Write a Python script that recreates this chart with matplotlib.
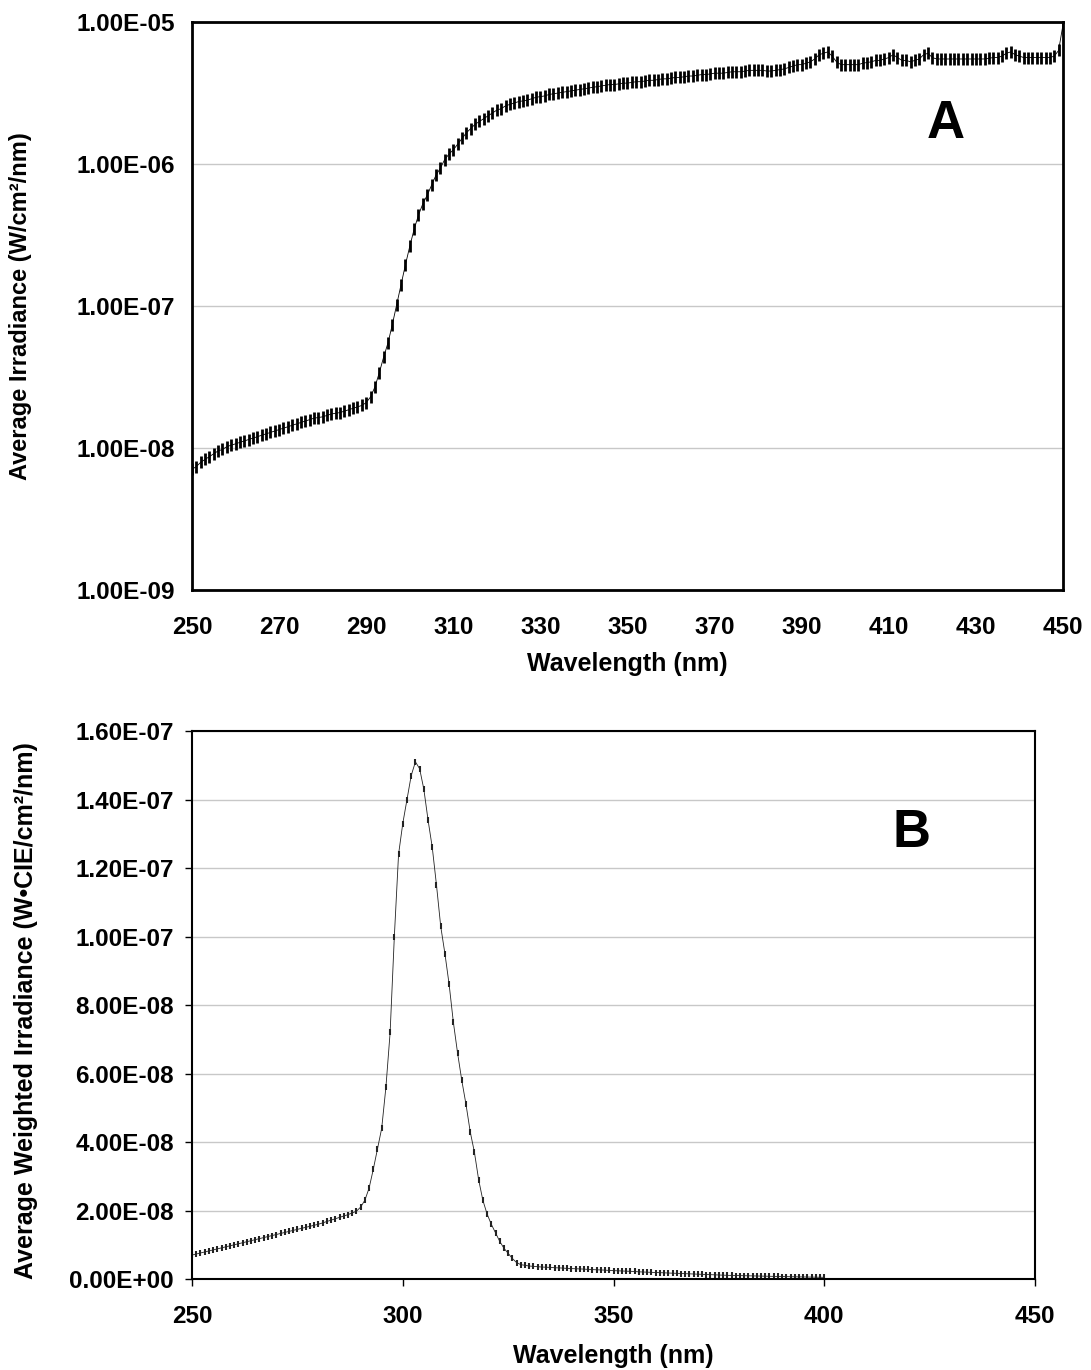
import matplotlib as mpl
mpl.use('Agg')
import matplotlib.pyplot as plt
from matplotlib.ticker import FixedLocator, FuncFormatter
import numpy as np

plt.rcParams['font.family'] = ['Liberation Sans', 'DejaVu Sans']
plt.rcParams['font.weight'] = 'bold'

# Panel A: average irradiance, log10(W/cm2/nm), 1 nm steps from 250 to 450 nm
wlA = list(range(250, 451))
logIrrA = [
    -8.15, -8.13, -8.10, -8.08, -8.06, -8.04, -8.02, -8.01, -7.99, -7.98,
    -7.97, -7.96, -7.95, -7.94, -7.93, -7.92, -7.91, -7.90, -7.89, -7.88,
    -7.87, -7.86, -7.85, -7.84, -7.83, -7.82, -7.81, -7.80, -7.79, -7.785,
    -7.78, -7.77, -7.76, -7.755, -7.75, -7.74, -7.73, -7.72, -7.71, -7.70,
    -7.68, -7.64, -7.57, -7.47, -7.36, -7.26, -7.13, -6.99, -6.85, -6.71,
    -6.58, -6.46, -6.36, -6.28, -6.22, -6.15, -6.08, -6.03, -5.97, -5.93,
    -5.90, -5.86, -5.82, -5.78, -5.75, -5.72, -5.70, -5.68, -5.66, -5.64,
    -5.62, -5.61, -5.59, -5.58, -5.57, -5.56, -5.555, -5.55, -5.54, -5.53,
    -5.525, -5.52, -5.51, -5.505, -5.50, -5.495, -5.49, -5.485, -5.48, -5.475,
    -5.47, -5.465, -5.46, -5.455, -5.45, -5.445, -5.44, -5.44, -5.435, -5.43,
    -5.43, -5.425, -5.42, -5.42, -5.415, -5.41, -5.41, -5.405, -5.40, -5.40,
    -5.395, -5.39, -5.39, -5.385, -5.38, -5.38, -5.375, -5.37, -5.37, -5.365,
    -5.36, -5.36, -5.36, -5.355, -5.35, -5.35, -5.35, -5.345, -5.34, -5.34,
    -5.34, -5.34, -5.345, -5.345, -5.34, -5.335, -5.33, -5.32, -5.31, -5.30,
    -5.30, -5.29, -5.28, -5.26, -5.23, -5.22, -5.21, -5.24, -5.28, -5.30,
    -5.30, -5.30, -5.30, -5.30, -5.29, -5.285, -5.28, -5.27, -5.27, -5.26,
    -5.25, -5.23, -5.25, -5.27, -5.27, -5.28, -5.27, -5.26, -5.23, -5.22,
    -5.25, -5.26, -5.26, -5.26, -5.26, -5.26, -5.26, -5.26, -5.26, -5.26,
    -5.26, -5.26, -5.26, -5.255, -5.25, -5.25, -5.24, -5.22, -5.21, -5.23,
    -5.24, -5.25, -5.25, -5.25, -5.25, -5.25, -5.25, -5.25, -5.24, -5.20,
    -5.02,
]

# Panel B: CIE weighted irradiance (units of 1e-9 W-CIE/cm2/nm), 250 to 400 nm
wlB = list(range(250, 401))
weightedB = [
    7.0, 7.3, 7.6, 7.9, 8.2, 8.5, 8.8, 9.1, 9.4, 9.7,
    10.0, 10.3, 10.6, 10.9, 11.2, 11.5, 11.8, 12.1, 12.4, 12.7,
    13.0, 13.3, 13.6, 13.9, 14.2, 14.5, 14.8, 15.1, 15.4, 15.7,
    16.0, 16.4, 16.8, 17.2, 17.6, 18.0, 18.4, 18.8, 19.3, 19.8,
    21.0, 23.0, 26.5, 32.0, 38.0, 44.0, 56.0, 72.0, 100.0, 124.0,
    133.0, 140.0, 147.0, 151.0, 149.0, 143.0, 134.0, 126.0, 115.0, 103.0,
    95.0, 86.0, 75.0, 66.0, 58.0, 51.0, 43.0, 37.0, 29.0, 23.0,
    19.0, 16.0, 13.5, 11.0, 9.0, 7.5, 6.0, 4.8, 4.2, 4.0,
    3.8, 3.7, 3.6, 3.5, 3.45, 3.4, 3.3, 3.25, 3.2, 3.1,
    3.05, 3.0, 2.95, 2.9, 2.8, 2.75, 2.7, 2.65, 2.6, 2.5,
    2.45, 2.4, 2.35, 2.3, 2.25, 2.2, 2.1, 2.05, 2.0, 1.95,
    1.9, 1.85, 1.8, 1.75, 1.7, 1.65, 1.6, 1.55, 1.5, 1.45,
    1.4, 1.35, 1.3, 1.25, 1.2, 1.15, 1.1, 1.08, 1.05, 1.0,
    0.98, 0.95, 0.92, 0.9, 0.88, 0.85, 0.82, 0.8, 0.78, 0.75,
    0.72, 0.7, 0.68, 0.66, 0.64, 0.62, 0.6, 0.58, 0.56, 0.55,
    0.5,
]

ticksA_x = [250, 270, 290, 310, 330, 350, 370, 390, 410, 430, 450]
ticksA_y = [1e-9, 1e-8, 1e-7, 1e-6, 1e-5]
ticksB_x = [250, 300, 350, 400, 450]
ticksB_y = [0, 2e-8, 4e-8, 6e-8, 8e-8, 1e-7, 1.2e-7, 1.4e-7, 1.6e-7]


def sci(v, pos=None):
    if v == 0:
        return '0.00E+00'
    s = '%.2E' % v
    mant, ex = s.split('E')
    return '%sE%s%02d' % (mant, ex[0], abs(int(ex)))


fig = plt.figure(figsize=(10.91, 13.70), dpi=100)

# ---- panel A
axA = fig.add_axes([0.176, 0.5693, 0.7983, 0.4146])
irrA = [10 ** v for v in logIrrA]
axA.plot(wlA, irrA, color='black', lw=0.6, marker='|', ms=8, mew=2.0,
         linestyle='-')
axA.set_yscale('log')
axA.set_xlim(250, 450)
axA.set_ylim(1e-9, 1e-5)
axA.xaxis.set_major_locator(FixedLocator(ticksA_x))
axA.yaxis.set_major_locator(FixedLocator(ticksA_y))
axA.yaxis.set_minor_locator(FixedLocator([]))
axA.yaxis.set_major_formatter(FuncFormatter(sci))
axA.grid(axis='y', color='#c8c8c8', lw=1)
axA.set_axisbelow(True)
for sp in axA.spines.values():
    sp.set_linewidth(2)
axA.tick_params(axis='x', labelsize=17.5, length=0, pad=19)
axA.tick_params(axis='y', labelsize=17.5, length=0, pad=12)
axA.set_xlabel('Wavelength (nm)', fontsize=18, fontweight='bold')
axA.xaxis.set_label_coords(0.5, -0.109)
axA.set_ylabel('Average Irradiance (W/cm²/nm)', fontsize=17, fontweight='bold')
axA.yaxis.set_label_coords(-0.184, 0.5)
axA.text(0.865, 0.82, 'A', transform=axA.transAxes, fontsize=38,
         fontweight='bold', ha='center', va='center')

# ---- panel B
axB = fig.add_axes([0.176, 0.0664, 0.7727, 0.4000])
valsB = [v * 1e-9 for v in weightedB]
axB.plot(wlB, valsB, color='#222222', lw=0.6, marker='|', ms=4.5, mew=1.5)
axB.set_xlim(250, 450)
axB.set_ylim(0, 1.6e-7)
axB.xaxis.set_major_locator(FixedLocator(ticksB_x))
axB.yaxis.set_major_locator(FixedLocator(ticksB_y))
axB.yaxis.set_major_formatter(FuncFormatter(sci))
axB.grid(axis='y', color='#c8c8c8', lw=1)
axB.set_axisbelow(True)
for sp in axB.spines.values():
    sp.set_linewidth(1.5)
axB.tick_params(axis='x', labelsize=17.5, length=5, width=1, pad=14)
axB.tick_params(axis='y', labelsize=17.5, length=5, width=1, pad=8)
axB.set_xlabel('Wavelength (nm)', fontsize=18, fontweight='bold')
axB.xaxis.set_label_coords(0.5, -0.119)
axB.set_ylabel('Average Weighted Irradiance (W•CIE/cm²/nm)', fontsize=18,
               fontweight='bold')
axB.yaxis.set_label_coords(-0.183, 0.49)
axB.text(0.854, 0.814, 'B', transform=axB.transAxes, fontsize=38,
         fontweight='bold', ha='center', va='center')

for ax in (axA, axB):
    for lab in ax.get_xticklabels() + ax.get_yticklabels():
        lab.set_fontweight('bold')

fig.savefig('out.png', dpi=100)
